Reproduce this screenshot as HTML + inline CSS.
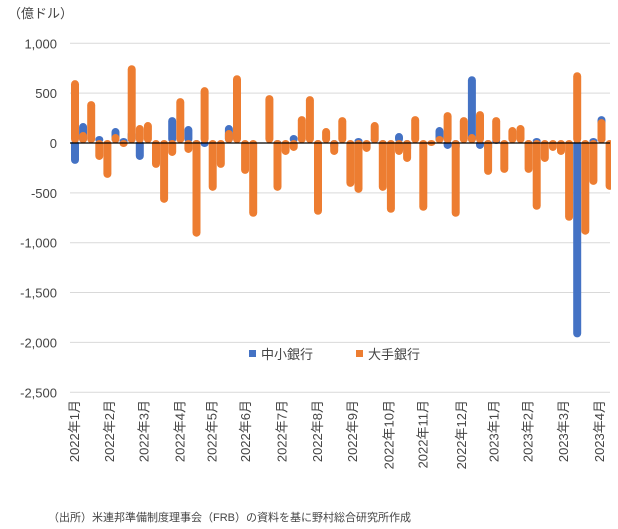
<!DOCTYPE html>
<html><head><meta charset="utf-8"><style>
body{margin:0;background:#fff;font-family:"Liberation Sans","Noto Sans CJK JP",sans-serif;}
</style></head><body>
<svg width="618" height="529" style="display:block">
<defs><clipPath id="pc"><rect x="60" y="0" width="551" height="400"/></clipPath></defs>
<g id="grid"></g><g id="bars" clip-path="url(#pc)"></g><g id="axes"></g>
<text x="8" y="18" font-size="13" fill="#444">（億ドル）</text>
<g>
<rect x="249" y="350" width="7" height="7" fill="#4472c4"/>
<text x="261" y="359" font-size="13" fill="#444">中小銀行</text>
<rect x="356" y="350" width="7" height="7" fill="#ed7d31"/>
<text x="368" y="359" font-size="13" fill="#444">大手銀行</text>
</g>
<text x="48" y="521" font-size="11" fill="#444">（出所）米連邦準備制度理事会（FRB）の資料を基に野村総合研究所作成</text>
</svg>
<script>
const yTicks=[1000,500,0,-500,-1000,-1500,-2000,-2500];
const yTickLabels=["1,000","500","0","-500","-1,000","-1,500","-2,000","-2,500"];
const months=["2022年1月","2022年2月","2022年3月","2022年4月","2022年5月","2022年6月","2022年7月","2022年8月","2022年9月","2022年10月","2022年11月","2022年12月","2023年1月","2023年2月","2023年3月","2023年4月"];
const monthWeek=[0,4.3,8.6,13,17,21.1,25.6,30,34.3,38.8,43,47.8,51.8,56,60.4,64.8];
const large=[600,80,390,-170,-350,60,-40,750,150,180,-250,-600,-130,420,-100,-940,530,-480,-250,100,650,-310,-740,0,450,-480,-120,-80,240,440,-720,120,-120,230,-440,-500,-90,180,-480,-700,-120,-190,240,-680,-30,40,280,-740,230,60,290,-320,230,-300,130,150,-300,-670,-190,-80,-120,-780,680,-920,-420,210,-470];
const small=[-210,170,0,40,0,120,20,100,-170,0,0,0,230,0,140,-170,-40,0,0,150,0,0,0,0,0,-30,0,50,0,0,-60,0,-70,0,0,20,0,30,-50,0,70,-100,0,0,0,130,-60,-80,0,640,-60,-90,20,0,0,0,-80,20,0,0,0,0,-1950,0,20,240,0];
const NS="http://www.w3.org/2000/svg";
const y=v=>143-v*0.0997;
const x=i=>75+i*8.1;
function mk(t,a,p){const e=document.createElementNS(NS,t);for(const k in a)e.setAttribute(k,a[k]);p.appendChild(e);return e;}
const grid=document.getElementById('grid'),bars=document.getElementById('bars'),axes=document.getElementById('axes');
yTicks.forEach((v,i)=>{
 if(v!==0){const l=mk('line',{x1:70,x2:610,y1:y(v),y2:y(v),stroke:'#d9d9d9','stroke-width':1},grid);
 
 }
 const t=mk('text',{x:57,y:y(v)+5,'text-anchor':'end','font-size':13,fill:'#444'},axes);t.textContent=yTickLabels[i];
 
 
});
function bar(i,v,c,nm){if(!v)return;const top=Math.min(y(v),y(0))-3,h=Math.abs(y(v)-y(0))+3;
 const r=mk('rect',{x:x(i)-4,y:top,width:8,height:Math.max(h,6),rx:4,fill:c},bars);
 
 }
small.forEach((v,i)=>bar(i,v,'#4472c4','bar-small-banks'));
large.forEach((v,i)=>bar(i,v,'#ed7d31','bar-large-banks'));
const z=mk('line',{x1:70,x2:610,y1:y(0),y2:y(0),stroke:'#000','stroke-width':1.3},axes);


months.forEach((m,i)=>{const xx=x(monthWeek[i])+4;
 const t=mk('text',{x:0,y:0,transform:`translate(${xx},400) rotate(-90)`,'text-anchor':'end','font-size':13,fill:'#444'},axes);
 t.textContent=m;
 
 });
</script>
</body></html>
